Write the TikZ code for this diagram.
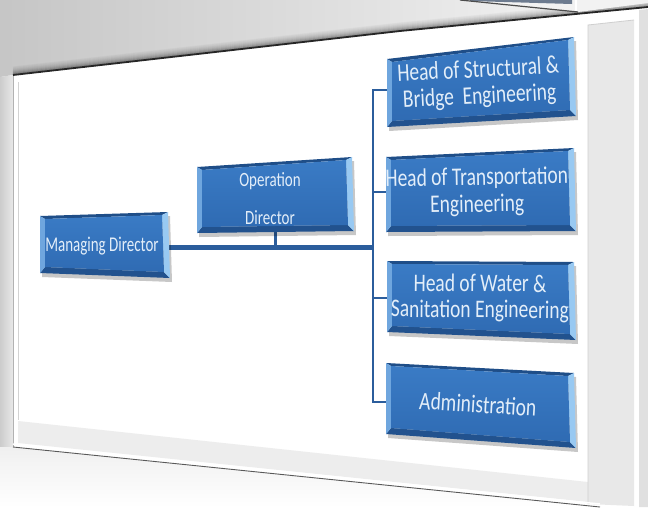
\documentclass[tikz,border=0pt]{standalone}
\usepackage{fontspec}
\setmainfont{Carlito}
\usetikzlibrary{calc}
\definecolor{connblue}{HTML}{2B5D9C}
\definecolor{boxfill}{HTML}{2F6BB3}
\definecolor{boxfilltop}{HTML}{3A7BC5}
\definecolor{bevtop}{HTML}{1F4E88}
\definecolor{bevbot}{HTML}{22528E}
\definecolor{bevleft}{HTML}{6FA6DE}
\definecolor{bevright}{HTML}{98C9F2}
\definecolor{txtc}{HTML}{E3EEF9}
\definecolor{slate}{HTML}{6D7B8F}
\newcommand\orgbox[4]{%
  \fill[black,opacity=0.22] ($#1+(2,4)$) -- ($#2+(2,4)$) -- ($#3+(2,4)$) -- ($#4+(2,4)$) -- cycle;
  \coordinate (oA) at #1; \coordinate (oB) at #2; \coordinate (oC) at #3; \coordinate (oD) at #4;
  \coordinate (iA) at ($(oA)+(5,3)$); \coordinate (iB) at ($(oB)+(-6,3)$);
  \coordinate (iC) at ($(oC)+(-6,-6)$); \coordinate (iD) at ($(oD)+(5,-6)$);
  \fill[bevtop] (oA) -- (oB) -- (iB) -- (iA) -- cycle;
  \fill[bevbot] (oD) -- (oC) -- (iC) -- (iD) -- cycle;
  \fill[bevleft] (oA) -- (iA) -- (iD) -- (oD) -- cycle;
  \fill[bevright] (oB) -- (oC) -- (iC) -- (iB) -- cycle;
  \shade[top color=boxfilltop,bottom color=boxfill] (iA) -- (iB) -- (iC) -- (iD) -- cycle;
}
\newcommand\Ys[2]{\scalebox{1}[#1]{#2}}
\begin{document}
\begin{tikzpicture}[x=1pt,y=-1pt,
  conn/.style={draw=connblue,line width=2pt},
  lbl/.style={text=txtc,align=center,inner sep=0pt},
  bigfont/.style={font=\fontsize{19.5}{26}\selectfont},
  smallfont/.style={font=\fontsize{15}{38}\selectfont}]
\useasboundingbox (0,0) rectangle (648,507);
% background
\fill[white] (0,0) rectangle (648,507);
\shade[left color=gray!45,right color=gray!6] (0,0) -- (648,0) -- (648,7) -- (400,31) -- (13,75) -- (0,77) -- cycle;
\foreach \i/\o in {1/0.32,2/0.26,3/0.2,4/0.15,5/0.11,6/0.08,7/0.05,8/0.03}
  {\draw[black,opacity=\o,line width=1.2pt] (13,75-\i) -- (400,31-\i) -- (648,7-\i);}
% other slide piece at top right
\fill[gray!10] (460,0) -- (648,0) -- (648,3) -- (578,12) -- cycle;
\fill[slate] (470,0) -- (572,0) -- (572,4) -- (470,1) -- cycle;
\draw[black!70,line width=1.2pt] (460,0) -- (578,12);
\draw[white,line width=1.5pt] (576,0) -- (576,11);
% left and bottom outside
\shade[left color=gray!40,right color=gray!18] (0,77) -- (13,75) -- (13,447) -- (0,447) -- cycle;
\shade[top color=gray!12,bottom color=white] (0,447) -- (13,447) -- (600,507) -- (0,507) -- cycle;
% slide
\fill[white] (13,75) -- (400,31) -- (648,7) -- (648,507) -- (600,507) -- (13,447) -- cycle;
\fill[gray!14] (18,421) -- (588,482) -- (588,502) -- (18,443) -- cycle;
\fill[gray!18] (588,25) -- (634,20) -- (634,506) -- (588,504) -- cycle;
\draw[gray!38,line width=0.8pt] (588,504) -- (588,25) -- (634,20);
\fill[gray!24] (639,10) -- (648,9) -- (648,507) -- (639,507) -- cycle;
\draw[gray!60,line width=0.8pt] (13,75) -- (13,447);
\draw[gray!35,line width=1.2pt] (18.5,82) -- (18.5,420);
\draw[black!85,line width=1.8pt] (13,75) -- (400,31) -- (648,7);
\draw[white,line width=1.5pt] (13,444) -- (600,504);
\draw[black!65,line width=0.9pt] (13,447) -- (600,507);
% connector points
\coordinate (mdE) at (168,247);
\coordinate (tkM) at (374,247);
\coordinate (odS) at (275,230);
\coordinate (odJ) at (275,247);
\coordinate (tk1) at (373,90);
\coordinate (tk2) at (373,192);
\coordinate (tk3) at (373,298);
\coordinate (tk4) at (373,402);
\coordinate (hsW) at (390,90);
\coordinate (htW) at (389,192);
\coordinate (hwW) at (390,298);
\coordinate (adW) at (389,402);
% connectors
\draw[conn,line width=5pt] (mdE) -- (tkM);
\draw[conn,line width=3pt] (odS) -- (odJ);
\draw[conn,line cap=rect] (tk1) -- (tk4);
\draw[conn] (tk1) -- (hsW);
\draw[conn] (tk2) -- (htW);
\draw[conn] (tk3) -- (hwW);
\draw[conn] (tk4) -- (adW);
% boxes
\orgbox{(40,216)}{(168,212)}{(170,278)}{(40,273)}
\orgbox{(197,167)}{(352,157)}{(354,231)}{(197,233)}
\orgbox{(387,59)}{(574,37)}{(576,116)}{(387,127)}
\orgbox{(386,157)}{(574,148)}{(576,231)}{(386,232)}
\orgbox{(387,261)}{(574,262)}{(576,340)}{(387,332)}
\orgbox{(386,363)}{(574,373)}{(576,448)}{(386,434)}
% labels
\node[lbl,font=\fontsize{15}{20}\selectfont] (md) at (102,246) {\Ys{1.4}{Managing Director}};
\node[lbl,smallfont] (od) at (270,199) {\Ys{1.35}{Operation}\\\Ys{1.35}{Director}};
\node[lbl,rotate=3,font=\fontsize{19.5}{26.5}\selectfont] (hs) at (479,84) {\Ys{1.3}{Head of Structural \&}\\\Ys{1.3}{Bridge\ \ Engineering}};
\node[lbl,rotate=1,font=\fontsize{19.5}{27}\selectfont] (ht) at (477,192) {\Ys{1.3}{Head of Transportation}\\\Ys{1.3}{Engineering}};
\node[lbl,bigfont,rotate=-0.5] (hw) at (480,298) {\Ys{1.3}{Head of Water \&}\\\Ys{1.3}{Sanitation Engineering}};
\node[lbl,bigfont,rotate=-3.5] (adm) at (478,404) {\Ys{1.3}{Administration}};
\end{tikzpicture}
\end{document}
